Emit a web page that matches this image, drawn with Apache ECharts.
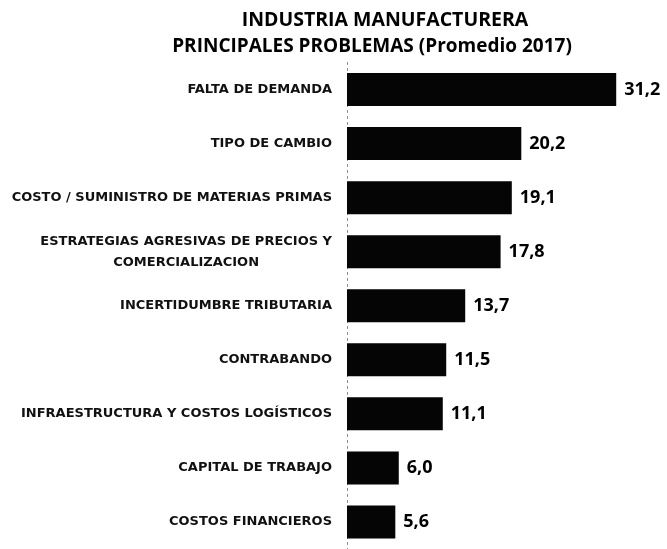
<!DOCTYPE html>
<html lang="es">
    <head>
        <meta charset="UTF-8">
        <title>Industria manufacturera - principales problemas</title>
        <script src="https://cdn.jsdelivr.net/npm/echarts@6/dist/echarts.min.js"></script>
        <style>
            html, body { margin: 0; padding: 0; background: #fff; }
            #Main { width: 667px; height: 549px; }
        </style>
    </head>
    <body>
        <div id="Main"></div>

        <script type="text/javascript">
            // categorías (de arriba hacia abajo)
            var problemas = [
                'FALTA DE DEMANDA',
                'TIPO DE CAMBIO',
                'COSTO / SUMINISTRO DE MATERIAS PRIMAS',
                'ESTRATEGIAS AGRESIVAS DE PRECIOS Y\nCOMERCIALIZACION',
                'INCERTIDUMBRE TRIBUTARIA',
                'CONTRABANDO',
                'INFRAESTRUCTURA Y COSTOS LOGÍSTICOS',
                'CAPITAL DE TRABAJO',
                'COSTOS FINANCIEROS'
            ];
            // promedio 2017 (%)
            var promedio = [31.2, 20.2, 19.1, 17.8, 13.7, 11.5, 11.1, 6.0, 5.6];

            var titulo1 = 'INDUSTRIA MANUFACTURERA';
            var titulo2 = 'PRINCIPALES PROBLEMAS (Promedio 2017)';

            var myChart = echarts.init(document.getElementById('Main'));

            myChart.setOption({
                animation: false,
                title: [{
                    text: titulo1,
                    left: 380,
                    top: 5,
                    textAlign: 'center',
                    textStyle: { fontFamily: 'Open Sans', fontWeight: 'bold', fontSize: 19.5, color: '#000' }
                }, {
                    text: titulo2,
                    left: 367,
                    top: 32,
                    textAlign: 'center',
                    textStyle: { fontFamily: 'Open Sans', fontWeight: 'bold', fontSize: 19, color: '#000' }
                }],
                grid: {
                    left: 347,
                    top: 62.5,
                    width: 302,
                    height: 496,
                    containLabel: false
                },
                xAxis: {
                    type: 'value',
                    min: 0,
                    max: 35,
                    show: false
                },
                yAxis: {
                    type: 'category',
                    inverse: true,
                    data: problemas,
                    axisTick: { show: false },
                    axisLine: {
                        show: true,
                        lineStyle: { color: '#888', width: 1, type: [2, 4] }
                    },
                    axisLabel: {
                        margin: 15,
                        // líneas centradas entre sí (etiqueta de dos líneas)
                        formatter: function (v) {
                            return v.split('\n').map(function (s) { return '{c|' + s + '}'; }).join('\n');
                        },
                        rich: {
                            c: {
                                align: 'center',
                                fontFamily: 'DejaVu Sans',
                                fontWeight: 'bold',
                                fontSize: 13,
                                lineHeight: 21,
                                color: '#111'
                            }
                        }
                    }
                },
                series: [{
                    type: 'bar',
                    data: promedio,
                    barWidth: 33,
                    itemStyle: { color: '#050505' },
                    label: {
                        show: true,
                        position: 'right',
                        distance: 8,
                        fontFamily: 'Open Sans',
                        fontWeight: 'bold',
                        fontSize: 18,
                        color: '#000',
                        formatter: function (p) {
                            return p.value.toFixed(1).replace('.', ',');
                        }
                    }
                }]
            });

            window.addEventListener('resize', function () {
                myChart.resize();
            });
        </script>
    </body>
</html>
